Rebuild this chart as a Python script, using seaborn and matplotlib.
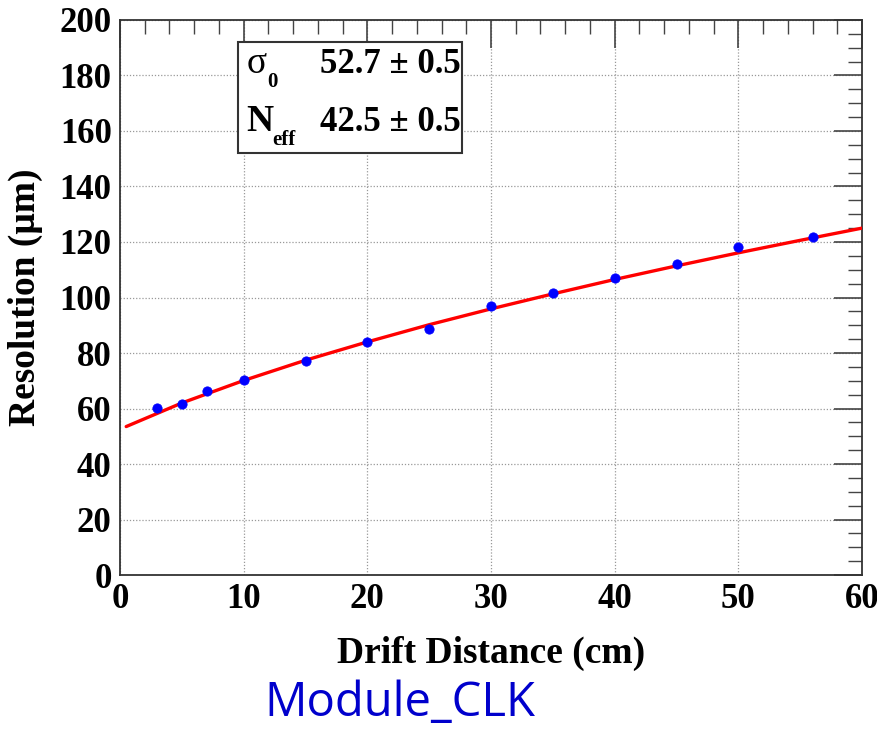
import matplotlib
matplotlib.use("Agg")
import matplotlib.pyplot as plt
import seaborn as sns
import pandas as pd
from matplotlib.ticker import MultipleLocator
from matplotlib.patches import Rectangle

# measured points
drift_cm = [3, 5, 7, 10, 15, 20, 25, 30, 35, 40, 45, 50, 56]
resolution_um = [60.3, 61.8, 66.2, 70.1, 77.3, 83.8, 88.8, 96.8, 101.8, 107.0, 112.2, 118.3, 121.8]
resolution_err = [0.8, 0.8, 0.8, 0.8, 0.8, 0.8, 0.8, 0.8, 0.8, 0.8, 0.8, 1.0, 0.8]

# fitted curve
fit_x = [0.5, 5, 10, 15, 20, 25, 30, 35, 40, 45, 50, 55, 60]
fit_y = [53.5, 62.0, 70.1, 77.4, 84.0, 90.2, 95.9, 101.3, 106.5, 111.4, 116.1, 120.6, 125.0]

fit_labels = [("\u03c3", "0", "52.7 \u00b1 0.5"), ("N", "eff", "42.5 \u00b1 0.5")]

sns.set_theme(style="white")
plt.rcParams["font.family"] = ["Liberation Serif", "DejaVu Serif"]
plt.rcParams["text.color"] = "black"
plt.rcParams["axes.labelcolor"] = "black"
plt.rcParams["xtick.labelcolor"] = "black"
plt.rcParams["ytick.labelcolor"] = "black"

fig = plt.figure(figsize=(8.78, 7.29), dpi=100)
ax = fig.add_axes([0.1367, 0.2112, 0.8451, 0.7614])

pts = pd.DataFrame({"x": drift_cm, "y": resolution_um})
fit = pd.DataFrame({"x": fit_x, "y": fit_y})

sns.lineplot(data=fit, x="x", y="y", color="red", linewidth=2.4, ax=ax, zorder=3)
ax.errorbar(drift_cm, resolution_um, yerr=resolution_err, fmt="none", ecolor="blue", elinewidth=1, zorder=4)
sns.scatterplot(data=pts, x="x", y="y", color="blue", s=45, edgecolor="blue", ax=ax, zorder=5)

ax.set_xlim(0, 60)
ax.set_ylim(0, 200)
ax.xaxis.set_major_locator(MultipleLocator(10))
ax.xaxis.set_minor_locator(MultipleLocator(2))
ax.yaxis.set_major_locator(MultipleLocator(20))
ax.yaxis.set_minor_locator(MultipleLocator(5))
ax.tick_params(which="both", direction="in", top=True, right=True, color="#444444")
ax.tick_params(which="major", length=20, width=1.2, labelsize=25, pad=6)
ax.tick_params(which="minor", length=10, width=1.0)
for lab in ax.get_xticklabels() + ax.get_yticklabels():
    lab.set_fontweight("bold")

ax.grid(True, which="major", linestyle=(0, (1, 1.5)), color="#999999", linewidth=0.9)
for s in ax.spines.values():
    s.set_color("#333333")
    s.set_linewidth(1.3)

ax.set_xlabel("Drift Distance (cm)", fontsize=27, fontweight="bold", labelpad=14)
ax.set_ylabel("Resolution (\u03bcm)", fontsize=27, fontweight="bold", labelpad=12)

# fit-parameter box
ax.add_patch(Rectangle((0.159, 0.760), 0.302, 0.200, transform=ax.transAxes,
                       facecolor="white", edgecolor="#333333", linewidth=1.5, zorder=6))
rows_y = [0.905, 0.800]
sub_x = [0.198, 0.205]
for (sym, sub, val), yy, sx in zip(fit_labels, rows_y, sub_x):
    ax.text(0.170, yy, sym, transform=ax.transAxes, fontsize=27,
            fontweight="bold" if sym == "N" else "normal", va="baseline", zorder=7)
    ax.text(sx, yy - 0.025, sub, transform=ax.transAxes,
            fontsize=15, fontweight="bold", va="baseline", zorder=7)
    ax.text(0.270, yy, val, transform=ax.transAxes, fontsize=25, fontweight="bold",
            va="baseline", zorder=7)

fig.text(0.456, 0.018, "Module_CLK", color="#0000CC", fontsize=34, family="Open Sans",
         ha="center", va="baseline")

fig.savefig("out.png", dpi=100)
